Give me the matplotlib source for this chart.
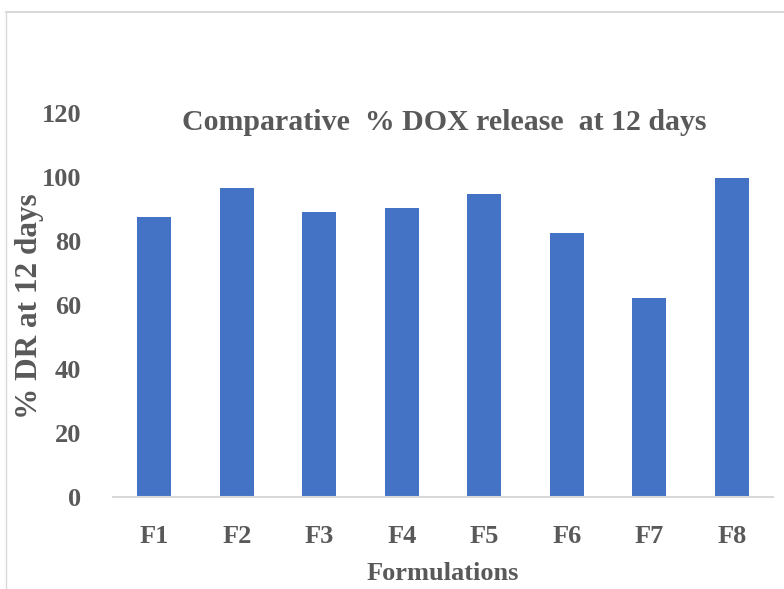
import matplotlib
matplotlib.use("Agg")
import matplotlib.pyplot as plt
from matplotlib.lines import Line2D

categories = ["F1", "F2", "F3", "F4", "F5", "F6", "F7", "F8"]
values = [87.5, 96.5, 89.0, 90.3, 94.7, 82.5, 62.2, 99.7]
yticks = [0, 20, 40, 60, 80, 100, 120]

txt = "#595959"
font = "Liberation Serif"

fig = plt.figure(figsize=(7.84, 5.89), dpi=100)
ax = fig.add_axes([113/784, 1-497/589, 660/784, 384/589])

ax.bar(range(len(categories)), values, width=0.41, color="#4472C4", zorder=2)
ax.set_xlim(-0.5, len(categories)-0.5)
ax.set_ylim(0, 120)
ax.set_yticks(yticks)
ax.set_xticks(range(len(categories)))
ax.set_xticklabels(categories)
for s in ["top", "right", "left"]:
    ax.spines[s].set_visible(False)
ax.spines["bottom"].set_color("#d9d9d9")
ax.spines["bottom"].set_linewidth(1.5)
ax.tick_params(axis="both", length=0, colors=txt)
ax.tick_params(axis="y", pad=23)
ax.tick_params(axis="x", pad=20)
for lab in ax.get_xticklabels() + ax.get_yticklabels():
    lab.set_fontfamily(font)
    lab.set_fontweight("bold")
    lab.set_fontsize(19)
    lab.set_color(txt)

ax.set_xlabel("Formulations", fontfamily=font, fontweight="bold", fontsize=19, color=txt, labelpad=10)
fig.text(30/784, 1-306/589, "% DR at 12 days", rotation=90, ha="center", va="center",
         fontfamily=font, fontweight="bold", fontsize=22.5, color=txt)
fig.text(444/784, 1-123/589, "Comparative  % DOX release  at 12 days", ha="center", va="center",
         fontfamily=font, fontweight="bold", fontsize=21.5, color=txt)

# chart area border (partially visible)
fig.add_artist(Line2D([6/784, 1], [1-12/589, 1-12/589], transform=fig.transFigure, color="#d9d9d9", lw=1.5))
fig.add_artist(Line2D([6/784, 6/784], [0, 1-12/589], transform=fig.transFigure, color="#d9d9d9", lw=1.0))

fig.savefig("out.png", dpi=100)
